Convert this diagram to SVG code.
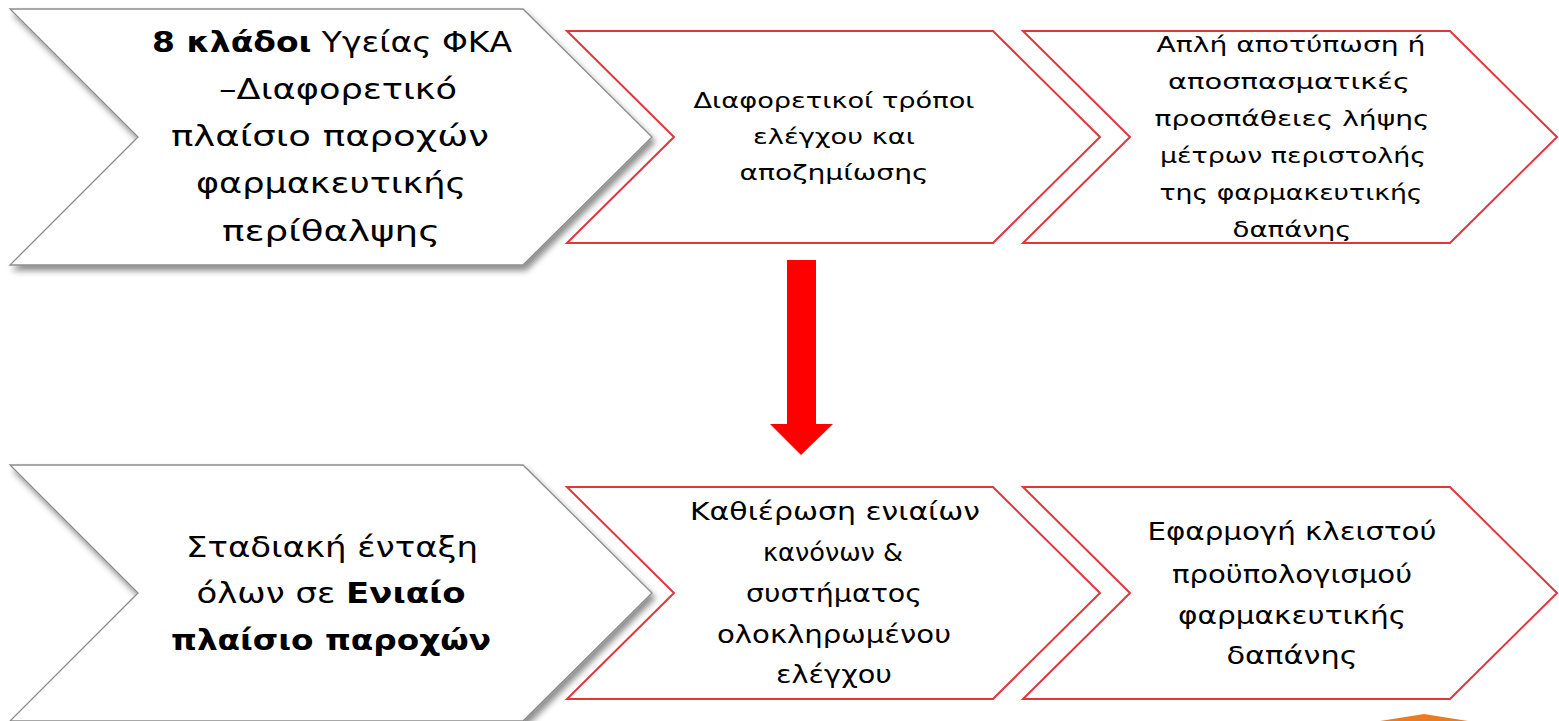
<svg xmlns="http://www.w3.org/2000/svg" width="1559" height="721" viewBox="0 0 1559 721">
<defs>
<filter id="sh" x="-10%" y="-10%" width="130%" height="130%">
<feGaussianBlur in="SourceAlpha" stdDeviation="3"/>
<feOffset dx="3" dy="5" result="b"/>
<feComponentTransfer><feFuncA type="linear" slope="0.45"/></feComponentTransfer>
<feMerge><feMergeNode/><feMergeNode in="SourceGraphic"/></feMerge>
</filter>
<style>
.g{fill:#fff;stroke:#8c8c8c;stroke-width:1.3}
.r{fill:#fff;stroke:#e0363d;stroke-width:2}
text{fill:#000;text-anchor:middle}
.big{font-size:28px}
.sm{font-size:22px}
.md{font-size:24px}
.b{font-weight:bold}
</style>
</defs>
<rect width="1559" height="721" fill="#fff"/>
<g id="node-top-1" font-family="DejaVu Sans, Verdana, sans-serif">
<polygon class="g" filter="url(#sh)" points="10,9 523,9 652,137 523,265 10,265 138,137"/>
<text class="big" x="332" y="52" textLength="360" lengthAdjust="spacingAndGlyphs"><tspan class="b">8 κλάδοι</tspan> Υγείας ΦΚΑ</text>
<text class="big" x="338" y="99" textLength="238" lengthAdjust="spacingAndGlyphs">–Διαφορετικό</text>
<text class="big" x="330" y="146" textLength="318" lengthAdjust="spacingAndGlyphs">πλαίσιο παροχών</text>
<text class="big" x="331" y="193" textLength="270" lengthAdjust="spacingAndGlyphs">φαρμακευτικής</text>
<text class="big" x="331" y="241" textLength="218" lengthAdjust="spacingAndGlyphs">περίθαλψης</text>
</g>
<g id="node-top-2" font-family="DejaVu Sans, Verdana, sans-serif">
<polygon class="r" points="567,31 993,31 1100,137 993,243 567,243 674,137"/>
<text class="sm" x="834" y="108" textLength="281" lengthAdjust="spacingAndGlyphs">Διαφορετικοί τρόποι</text>
<text class="sm" x="834" y="144" textLength="162" lengthAdjust="spacingAndGlyphs">ελέγχου και</text>
<text class="sm" x="834" y="180" textLength="189" lengthAdjust="spacingAndGlyphs">αποζημίωσης</text>
</g>
<g id="node-top-3" font-family="DejaVu Sans, Verdana, sans-serif">
<polygon class="r" points="1023,31 1450,31 1557,137 1450,243 1023,243 1130,137"/>
<text class="sm" x="1291" y="52" textLength="269" lengthAdjust="spacingAndGlyphs">Απλή αποτύπωση ή</text>
<text class="sm" x="1289" y="89" textLength="242" lengthAdjust="spacingAndGlyphs">αποσπασματικές</text>
<text class="sm" x="1292" y="126" textLength="275" lengthAdjust="spacingAndGlyphs">προσπάθειες λήψης</text>
<text class="sm" x="1293" y="163" textLength="266" lengthAdjust="spacingAndGlyphs">μέτρων περιστολής</text>
<text class="sm" x="1291" y="200" textLength="263" lengthAdjust="spacingAndGlyphs">της φαρμακευτικής</text>
<text class="sm" x="1292" y="237" textLength="119" lengthAdjust="spacingAndGlyphs">δαπάνης</text>
</g>
<g id="node-bottom-1" font-family="DejaVu Sans, Verdana, sans-serif">
<polygon class="g" filter="url(#sh)" points="10,465 523,465 652,593 523,721 10,721 138,593"/>
<text class="big" x="332" y="557" textLength="292" lengthAdjust="spacingAndGlyphs">Σταδιακή ένταξη</text>
<text class="big" x="331" y="603" textLength="269" lengthAdjust="spacingAndGlyphs">όλων σε <tspan class="b">Ενιαίο</tspan></text>
<text class="big b" x="331" y="650" textLength="320" lengthAdjust="spacingAndGlyphs">πλαίσιο παροχών</text>
</g>
<g id="node-bottom-2" font-family="DejaVu Sans, Verdana, sans-serif">
<polygon class="r" points="567,487 993,487 1100,593 993,699 567,699 674,593"/>
<text class="md" x="835" y="520" textLength="290" lengthAdjust="spacingAndGlyphs">Καθιέρωση ενιαίων</text>
<text class="md" x="833" y="561" textLength="140" lengthAdjust="spacingAndGlyphs">κανόνων &amp;</text>
<text class="md" x="834" y="602" textLength="176" lengthAdjust="spacingAndGlyphs">συστήματος</text>
<text class="md" x="834" y="643" textLength="234" lengthAdjust="spacingAndGlyphs">ολοκληρωμένου</text>
<text class="md" x="834" y="683" textLength="116" lengthAdjust="spacingAndGlyphs">ελέγχου</text>
</g>
<g id="node-bottom-3" font-family="DejaVu Sans, Verdana, sans-serif">
<polygon class="r" points="1023,487 1450,487 1557,593 1450,699 1023,699 1130,593"/>
<text class="md" x="1292" y="540" textLength="289" lengthAdjust="spacingAndGlyphs">Εφαρμογή κλειστού</text>
<text class="md" x="1292" y="583" textLength="240" lengthAdjust="spacingAndGlyphs">προϋπολογισμού</text>
<text class="md" x="1292" y="624" textLength="228" lengthAdjust="spacingAndGlyphs">φαρμακευτικής</text>
<text class="md" x="1292" y="664" textLength="131" lengthAdjust="spacingAndGlyphs">δαπάνης</text>
</g>
<g id="connectors">
<polygon fill="#ff0000" points="787,260 816,260 816,424 833,424 801,455 770,424 787,424"/>
</g>
<polygon fill="#e97c23" points="1380,721 1424,714 1468,721"/>
</svg>
